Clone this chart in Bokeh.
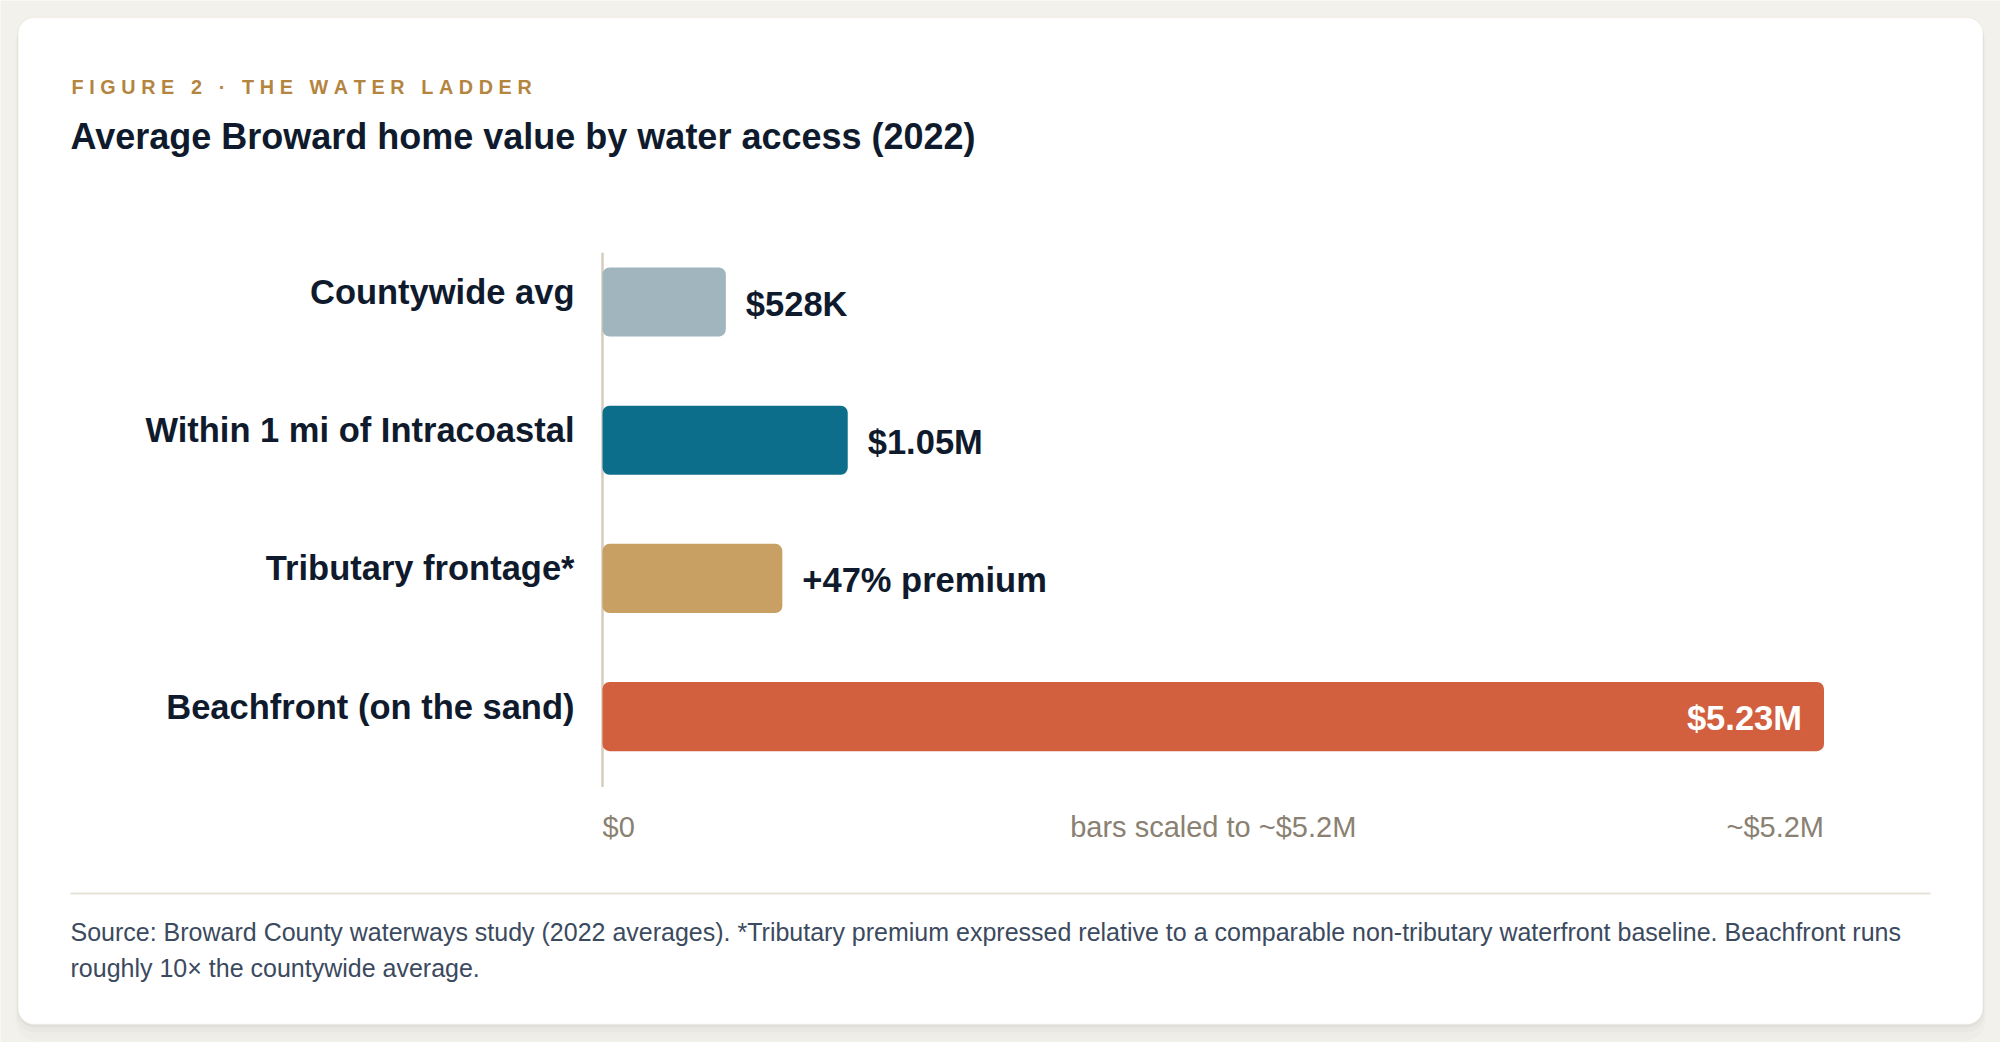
from bokeh.plotting import figure
from bokeh.models import ColumnDataSource, Range1d, Label, BoxAnnotation
from bokeh.embed import file_html
from bokeh.resources import INLINE
from bokeh.core.properties import value

# ---------------- data ----------------
categories = ["Countywide avg", "Within 1 mi of Intracoastal", "Tributary frontage*", "Beachfront (on the sand)"]
values = [528000, 1050000, 770000, 5230000]
value_labels = ["$528K", "$1.05M", "+47% premium", "$5.23M"]
bar_colors = ["#a0b5bd", "#0c6e8a", "#c9a063", "#d2603e"]
tick_labels = ["$0", "bars scaled to ~$5.2M", "~$5.2M"]
eyebrow = "FIGURE 2 · THE WATER LADDER"
title_text = "Average Broward home value by water access (2022)"
footnote_lines = [
    "Source: Broward County waterways study (2022 averages). *Tributary premium expressed relative to a comparable non-tributary waterfront baseline. Beachfront runs",
    "roughly 10× the countywide average.",
]

# ---------------- layout (pixels) ----------------
W, H = 2000, 1042
PLOT_X0, PLOT_X1 = 602, 1823.5    # where $0 and the max value sit
ROW0, ROW_STEP = 301.5, 138.2     # centre of first row, row spacing
FONT = "Liberation Sans"
INK = "#0f1b2d"
PAGE = "#f3f1ec"

xmax = max(values)
px_per_unit = (PLOT_X1 - PLOT_X0) / xmax
x_range = Range1d(-PLOT_X0 / px_per_unit, (W - PLOT_X0) / px_per_unit)
y_range = Range1d((H - ROW0) / ROW_STEP, -ROW0 / ROW_STEP)   # row 0 at top

p = figure(width=W, height=H, x_range=x_range, y_range=y_range,
           x_axis_type=None, y_axis_type=None,
           output_backend="svg", toolbar_location=None,
           min_border=0, min_border_left=0, min_border_right=0,
           min_border_top=0, min_border_bottom=0,
           background_fill_color=PAGE, border_fill_color=PAGE,
           outline_line_color=None)
p.grid.visible = False


def sx(X):
    return X


def sy(Y):
    return H - Y


def box(x0, y0, x1, y1, **kw):
    b = BoxAnnotation(left=sx(x0), right=sx(x1), top=sy(y0), bottom=sy(y1),
                      left_units="screen", right_units="screen",
                      top_units="screen", bottom_units="screen",
                      level="underlay", **kw)
    p.add_layout(b)
    return b


# card shadow + card
box(15, 23, 1985, 1040, fill_color="#000000", fill_alpha=0.015, line_color=None, border_radius=20)
box(16, 20, 1984, 1032, fill_color="#000000", fill_alpha=0.02, line_color=None, border_radius=18)
box(17, 19, 1983, 1027, fill_color="#000000", fill_alpha=0.03, line_color=None, border_radius=17)
box(17.5, 17, 1982.5, 1024, fill_color="#ffffff", fill_alpha=1, line_color="#e1dcd1", line_width=1.5, border_radius=16)
# separator
box(70, 892, 1930, 894, fill_color="#e6e2d8", fill_alpha=1, line_color=None)

pos = list(range(len(categories)))

# axis line
seg = ColumnDataSource(dict(x=[0], y0=[pos[0] - 0.357], y1=[pos[-1] + 0.51]))
p.segment(x0="x", x1="x", y0="y0", y1="y1", source=seg, line_color="#d6cdbf", line_width=2.5)

# bars
src = ColumnDataSource(dict(pos=pos, cat=categories, val=values, color=bar_colors, lab=value_labels,
                            zero=[0] * len(pos)))
p.hbar(y="pos", left=0, right="val", height=0.5, fill_color="color", line_color=None,
       source=src, border_radius=7)

# value labels
inside = [v > 0.5 * xmax for v in values]
out_src = ColumnDataSource(dict(
    pos=[c for c, i in zip(pos, inside) if not i],
    val=[v for v, i in zip(values, inside) if not i],
    lab=[l for l, i in zip(value_labels, inside) if not i]))
in_src = ColumnDataSource(dict(
    pos=[c for c, i in zip(pos, inside) if i],
    val=[v for v, i in zip(values, inside) if i],
    lab=[l for l, i in zip(value_labels, inside) if i]))
p.text(x="val", y="pos", text="lab", source=out_src, x_offset=20, y_offset=1.5,
       text_align="left", text_baseline="middle", text_font=value(FONT),
       text_font_style="bold", text_font_size="34.5px", text_color=INK)
p.text(x="val", y="pos", text="lab", source=in_src, x_offset=-22, y_offset=1.5,
       text_align="right", text_baseline="middle", text_font=value(FONT),
       text_font_style="bold", text_font_size="34.5px", text_color="#ffffff")

# category labels
p.text(x="zero", y="pos", text="cat", source=src, x_offset=-28, y_offset=-10,
       text_align="right", text_baseline="middle", text_font=value(FONT),
       text_font_style="bold", text_font_size="34.5px", text_color=INK)

# bottom scale labels
tick_pos = [0, xmax / 2, xmax]
tick_align = ["left", "center", "right"]
for t, xp, al in zip(tick_labels, tick_pos, tick_align):
    p.add_layout(Label(x=xp, x_units="data", y=sy(826), y_units="screen", text=t,
                       text_align=al, text_baseline="middle", text_font=FONT,
                       text_font_size="29px", text_color="#8a8172"))

# header
p.add_layout(Label(x=sx(71), y=sy(86.7), x_units="screen", y_units="screen",
                   text="\u2009\u200a".join(eyebrow), text_align="left", text_baseline="middle",
                   text_font=FONT, text_font_style="bold", text_font_size="19.8px", text_color="#b3853f"))
p.add_layout(Label(x=sx(70), y=sy(135.8), x_units="screen", y_units="screen",
                   text=title_text, text_align="left", text_baseline="middle",
                   text_font=FONT, text_font_style="bold", text_font_size="36px", text_color=INK))

# footnote
for i, line in enumerate(footnote_lines):
    p.add_layout(Label(x=sx(70), y=sy(931.5 + 36 * i), x_units="screen", y_units="screen",
                       text=line, text_align="left", text_baseline="middle",
                       text_font=FONT, text_font_size="25px", text_color="#3b4a5e"))

open("out.html", "w").write(file_html(p, INLINE))
